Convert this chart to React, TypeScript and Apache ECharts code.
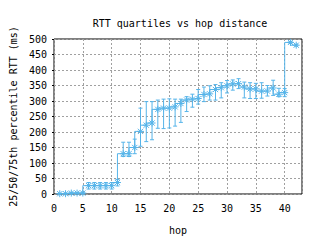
import React, { useEffect, useRef } from "react";
import * as echarts from "echarts";

const hops = [1,2,3,4,5,6,7,8,9,10,11,12,13,14,15,16,17,18,19,20,21,22,23,24,25,26,27,28,29,30,31,32,33,34,35,36,37,38,39,40,41,42];
const medianRtt = [1,1,3,3,3,27,27,27,27,27,37,130,130,150,202,222,229,273,277,277,281,292,303,306,308,321,323,337,343,349,355,356,345,339,339,332,332,342,322,327,489,480];
const q1Rtt = [0,0,1,1,1,16,16,16,16,16,26,121,121,130,154,169,175,212,211,213,219,231,266,280,290,298,303,303,310,326,335,340,310,308,308,309,316,318,314,314,486,477];
const q3Rtt = [2,2,4,4,4,37,37,37,37,37,47,167,167,177,277,298,298,303,306,307,306,306,314,322,337,345,349,353,359,366,368,372,361,359,357,359,350,367,341,340,492,483];

const xTicks = { min: 0, max: 43, interval: 5 };
const yTicks = { min: 0, max: 500, interval: 50 };

const COLOR = "#56b4e9";
const FONT = "DejaVu Sans Mono";
const STAR = "path://M4,0L4,8M0,4L8,4M1,1L7,7M7,1L1,7";

export default function App() {
  const ref = useRef<HTMLDivElement>(null);
  useEffect(() => {
    if (!ref.current) return;
    const chart = echarts.init(ref.current, null, { renderer: "svg" });
    const lineData = hops.map((h, i) => [h, medianRtt[i]]);
    const barData = hops.map((h, i) => [h, q1Rtt[i], q3Rtt[i]]);
    chart.setOption({
      animation: false,
      backgroundColor: "#fff",
      title: {
        text: "RTT quartiles vs hop distance",
        left: 175,
        top: 13,
        textAlign: "center",
        textStyle: { fontFamily: FONT, fontSize: 10, fontWeight: "normal", color: "#000" },
      },
      grid: {
        left: 53,
        right: 18,
        top: 39,
        bottom: 42,
        show: true,
        borderColor: "#000",
        borderWidth: 1,
      },
      xAxis: {
        type: "value",
        min: xTicks.min,
        max: xTicks.max,
        interval: xTicks.interval,
        name: "hop",
        nameLocation: "middle",
        nameGap: 31,
        nameTextStyle: { fontFamily: FONT, fontSize: 10, color: "#000" },
        axisLine: { show: false },
        axisTick: { show: false },
        axisLabel: {
          fontFamily: FONT,
          fontSize: 10,
          color: "#000",
          margin: 9,
          formatter: (v: number) => (v % 5 === 0 ? String(v) : ""),
        },
        splitLine: { show: true, lineStyle: { color: "#a0a0a0", type: [2, 2], width: 1 } },
      },
      yAxis: {
        type: "value",
        min: yTicks.min,
        max: yTicks.max,
        interval: yTicks.interval,
        name: "25/50/75th percentile RTT (ms)",
        nameLocation: "middle",
        nameGap: 36,
        nameTextStyle: { fontFamily: FONT, fontSize: 10, color: "#000" },
        axisLine: { show: false },
        axisTick: { show: true, length: 2, lineStyle: { color: "#000" } },
        axisLabel: { fontFamily: FONT, fontSize: 10, color: "#000", margin: 7 },
        splitLine: { show: true, lineStyle: { color: "#a0a0a0", type: [2, 2], width: 1 } },
      },
      series: [
        {
          type: "custom",
          data: barData,
          encode: { x: 0, y: [1, 2] },
          z: 2,
          renderItem: (params: any, api: any) => {
            const x = api.value(0);
            const lo = api.coord([x, api.value(1)]);
            const hi = api.coord([x, api.value(2)]);
            const w = 2;
            const st = { stroke: COLOR, lineWidth: 1 };
            return {
              type: "group",
              children: [
                { type: "line", shape: { x1: lo[0], y1: lo[1], x2: hi[0], y2: hi[1] }, style: st },
                { type: "line", shape: { x1: lo[0] - w, y1: lo[1], x2: lo[0] + w, y2: lo[1] }, style: st },
                { type: "line", shape: { x1: hi[0] - w, y1: hi[1], x2: hi[0] + w, y2: hi[1] }, style: st },
              ],
            };
          },
        },
        {
          type: "line",
          data: lineData,
          step: "start",
          z: 3,
          lineStyle: { color: COLOR, width: 1 },
          symbol: STAR,
          symbolSize: 7,
          showAllSymbol: true,
          itemStyle: { color: "none", borderColor: COLOR, borderWidth: 1 },
        },
      ],
    });
    return () => chart.dispose();
  }, []);
  return (
    <div
      ref={ref}
      style={{ position: "fixed", left: 0, top: 0, width: 320, height: 240, background: "#fff" }}
    />
  );
}
